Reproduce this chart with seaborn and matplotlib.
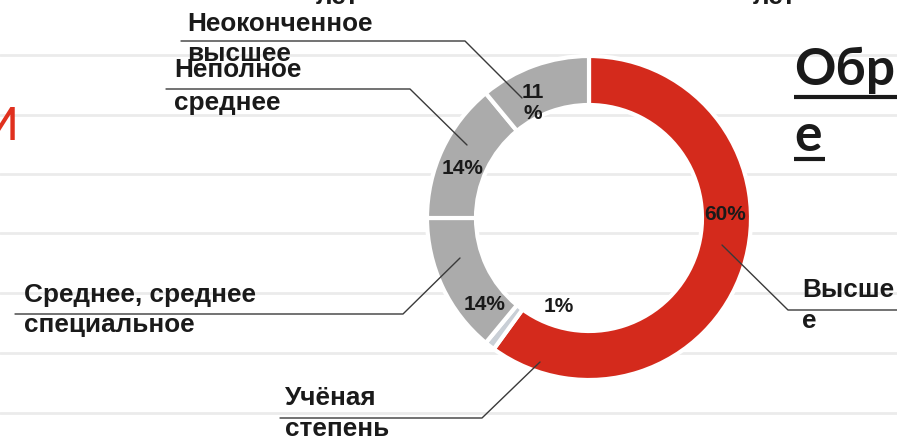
import matplotlib
matplotlib.use("Agg")
import matplotlib.pyplot as plt
import seaborn as sns

# Data: education level shares (%), clockwise from 12 o'clock
categories = ["Высшее", "Учёная степень", "Среднее, среднее специальное",
              "Неполное среднее", "Неоконченное высшее"]
shares = [60, 1, 14, 14, 11]
slice_colors = ["#D42A1C", "#C9CFD6", "#ABABAB", "#ABABAB", "#ABABAB"]

# Category labels as they wrap on the slide
label_lines = [["Высше", "е"], ["Учёная", "степень"], ["Среднее, среднее", "специальное"],
               ["Неполное", "среднее"], ["Неоконченное", "высшее"]]

W, H = 897, 444

sns.set_theme(style="white")
plt.rcParams['font.family'] = ['Liberation Sans', 'DejaVu Sans']


def iy(y):
    # slide pixel rows count from the top
    return H - y


fig = plt.figure(figsize=(W / 100, H / 100), dpi=100)
ax = fig.add_axes([0, 0, 1, 1])

# faint slide rulings behind everything
for y in [55, 115, 174, 233, 293, 353, 413]:
    ax.axhline(iy(y), color="#EBEBEB", lw=2, zorder=0)

# donut
center = (589, iy(218))
ax.pie(shares, colors=sns.color_palette(slice_colors), startangle=90, counterclock=False,
       radius=162, center=center, frame=True,
       wedgeprops=dict(width=49, edgecolor="white", linewidth=3))

# percentage labels (placed like the slide does)
pct_pos = [(725, 215), (559, 307), (485, 304), (463, 168), (533, 103)]
for v, (x, y) in zip(shares, pct_pos):
    txt = f"{v}%" if v != 11 else f"{v}\n%"
    ax.text(x, iy(y), txt, ha="center", va="center", fontsize=15, fontweight="bold",
            color="#1A1A1A", linespacing=1.1, zorder=5)

# category labels with leader lines
label_layout = [
    (802, 297, 328, [(722, 245), (788, 310), (897, 310)]),
    (285, 405, 436, [(540, 362), (482, 418), (280, 418)]),
    (24, 302, 332, [(460, 258), (403, 314), (15, 314)]),
    (174, 77, 110, [(467, 145), (410, 89), (166, 89)]),
    (187, 31, 61, [(522, 98), (465, 41), (181, 41)]),
]
for lines, (x, b1, b2, pts) in zip(label_lines, label_layout):
    ax.text(x, iy(b1), lines[0], ha="left", va="baseline", fontsize=18.8,
            fontweight="bold", color="#1A1A1A", zorder=5)
    ax.text(x, iy(b2), lines[1], ha="left", va="baseline", fontsize=18.8,
            fontweight="bold", color="#1A1A1A", zorder=5)
    ax.plot([p[0] for p in pts], [iy(p[1]) for p in pts], color="#3A3A3A", lw=1, zorder=4)

# slide fragments around the chart
ax.text(794, iy(85), "Обр", ha="left", va="baseline", fontsize=37, fontweight="bold",
        family=["Lato", "DejaVu Sans"], color="#1A1A1A")
ax.text(794, iy(151), "е", ha="left", va="baseline", fontsize=37, fontweight="bold",
        family=["Lato", "DejaVu Sans"], color="#1A1A1A")
ax.plot([794, 897], [iy(97), iy(97)], color="#1A1A1A", lw=3, solid_capstyle="butt")
ax.plot([794, 825], [iy(159), iy(159)], color="#1A1A1A", lw=3, solid_capstyle="butt")

ax.text(19, iy(140), "И", ha="right", va="baseline", fontsize=33, fontweight="normal",
        family=["Roboto", "DejaVu Sans"], color="#E0301E")
ax.text(337, iy(4), "лет", ha="center", va="baseline", fontsize=18.8, fontweight="bold",
        color="#1A1A1A")
ax.text(774, iy(4), "лет", ha="center", va="baseline", fontsize=18.8, fontweight="bold",
        color="#1A1A1A")

ax.set_xlim(0, W)
ax.set_ylim(0, H)
ax.axis("off")

plt.savefig("out.png", dpi=100)
